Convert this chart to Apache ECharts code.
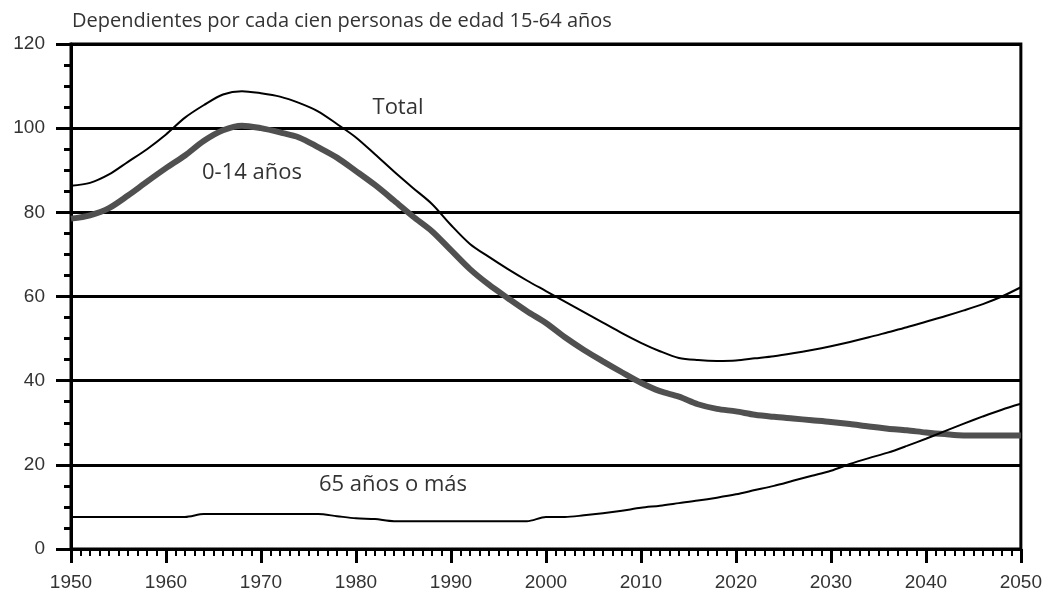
<!DOCTYPE html>
<html>
<head>
<meta charset="utf-8">
<script src="https://cdn.jsdelivr.net/npm/echarts@6/dist/echarts.min.js"></script>
<style>html,body{margin:0;padding:0;background:#fff;}#c{width:1045px;height:594px;}</style>
</head>
<body>
<div id="c"></div>
<script>
const years = [1950,1952,1954,1956,1958,1960,1962,1964,1966,1968,1970,1972,1974,1976,1978,1980,1982,1984,1986,1988,1990,1992,1994,1996,1998,2000,2002,2004,2006,2008,2010,2012,2014,2016,2018,2020,2022,2024,2026,2028,2030,2032,2034,2036,2038,2040,2042,2044,2046,2048,2050];
const total = [86.3,87,89,92,95,98.5,102.5,105.5,108,108.8,108.3,107.5,106,104,101,97.8,93.8,89.7,85.8,82,77,72.5,69.4,66.5,63.8,61.3,58.8,56.3,53.8,51.3,49,47,45.4,44.9,44.7,44.8,45.3,45.8,46.5,47.3,48.2,49.2,50.3,51.5,52.7,54,55.3,56.7,58.2,60,62.2];
const age0_14 = [78.5,79.3,81,84,87.3,90.5,93.5,97,99.5,100.6,100,99,97.8,95.5,93,89.8,86.5,82.8,79,75.5,71,66.5,62.8,59.6,56.5,53.7,50.3,47.3,44.6,42,39.5,37.5,36.2,34.4,33.3,32.7,31.9,31.4,31,30.6,30.2,29.7,29.1,28.6,28.2,27.7,27.3,27,27,27,27];
const age65 = [7.6,7.6,7.6,7.6,7.6,7.6,7.6,8.3,8.3,8.3,8.3,8.3,8.3,8.3,7.8,7.3,7.1,6.6,6.6,6.6,6.6,6.6,6.6,6.6,6.6,7.6,7.6,8,8.5,9.1,9.8,10.3,10.9,11.5,12.2,13,14,15,16.2,17.4,18.6,20.2,21.6,22.9,24.5,26.2,28,29.8,31.5,33.1,34.5];
const yTicks = [0,20,40,60,80,100,120];
const titleText = 'Dependientes por cada cien personas de edad 15-64 años';
const seriesNames = ['Total','0-14 años','65 años o más'];

const pairs = arr => years.map((y,i)=>[y,arr[i]]);
const chart = echarts.init(document.getElementById('c'), null, {renderer:'canvas'});
const labelFont = {fontFamily:'Open Sans', fontSize:22, fill:'#333'};
chart.setOption({
  animation:false,
  backgroundColor:'#fff',
  grid:{left:71,right:22,top:44,bottom:45,show:true,borderColor:'#000',borderWidth:3},
  xAxis:{type:'value',min:1950,max:2050,interval:10,
    axisLine:{show:true,lineStyle:{color:'#000',width:3}},
    axisTick:{show:true,length:14,lineStyle:{color:'#000',width:3}},
    minorTick:{show:true,splitNumber:10,length:7,lineStyle:{color:'#000',width:2}},
    splitLine:{show:false},
    axisLabel:{margin:24,color:'#333',fontFamily:'Liberation Sans',fontSize:19,formatter:v=>String(v)}},
  yAxis:{type:'value',min:0,max:120,interval:20,
    axisLine:{show:true,lineStyle:{color:'#000',width:3}},
    axisTick:{show:true,length:15,lineStyle:{color:'#000',width:3}},
    minorTick:{show:true,splitNumber:4,length:7,lineStyle:{color:'#000',width:3}},
    splitLine:{show:true,lineStyle:{color:'#000',width:3}},
    axisLabel:{margin:26,color:'#333',fontFamily:'Liberation Sans',fontSize:19,
      formatter:v=>yTicks.includes(v)?String(v):''}},
  series:[
    {name:seriesNames[0],type:'line',data:pairs(total),showSymbol:false,smooth:0.3,lineStyle:{color:'#000',width:2},z:3},
    {name:seriesNames[1],type:'line',data:pairs(age0_14),showSymbol:false,smooth:0.3,lineStyle:{color:'#505050',width:6},z:2},
    {name:seriesNames[2],type:'line',data:pairs(age65),showSymbol:false,smooth:0.3,lineStyle:{color:'#000',width:2},z:3}
  ],
  graphic:[
    {type:'text',left:72,top:11,style:{text:titleText,fontFamily:'Open Sans',fontSize:20,fill:'#333'}},
    {type:'text',x:398,y:108,style:Object.assign({text:seriesNames[0],align:'center',verticalAlign:'middle'},labelFont)},
    {type:'text',x:252,y:173,style:Object.assign({text:seriesNames[1],align:'center',verticalAlign:'middle'},labelFont)},
    {type:'text',x:393,y:485,style:Object.assign({text:seriesNames[2],align:'center',verticalAlign:'middle'},labelFont)}
  ]
});
</script>
</body>
</html>
